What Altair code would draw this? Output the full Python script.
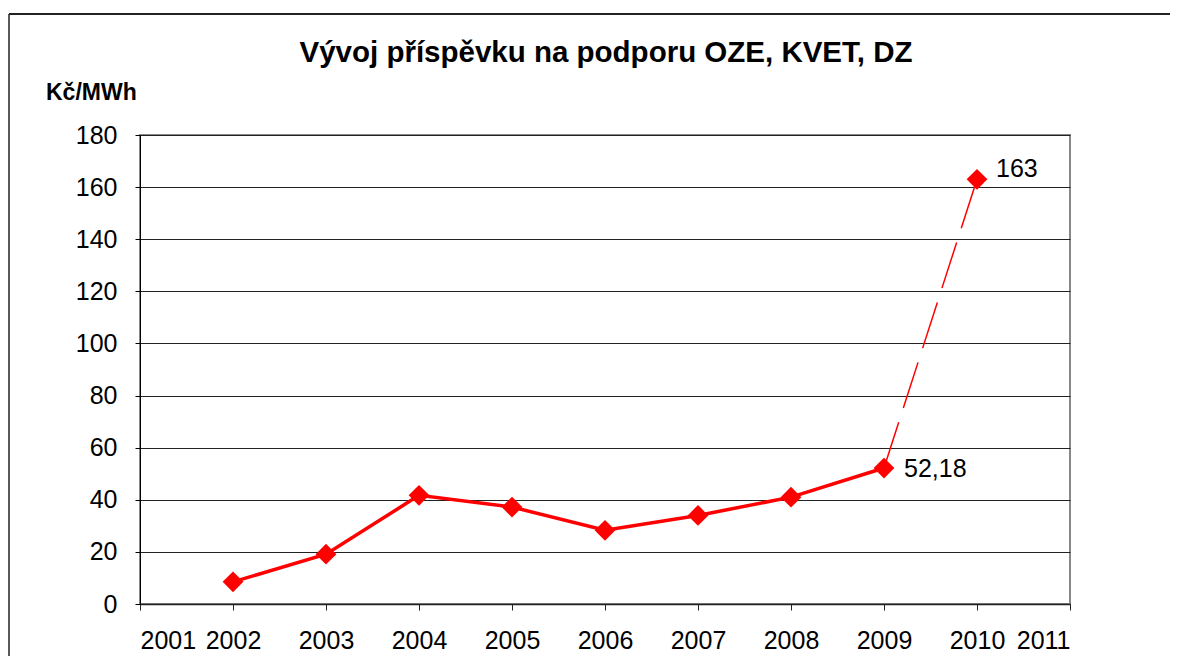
import altair as alt
import pandas as pd

# ---- data ----
years = [2002, 2003, 2004, 2005, 2006, 2007, 2008, 2009, 2010]
values = [8.5, 19.1, 41.7, 37.2, 28.3, 34.0, 41.0, 52.18, 163.0]
value_labels = ["", "", "", "", "", "", "", "52,18", "163"]
x_ticks = list(range(2001, 2012))
y_ticks = list(range(0, 181, 20))
title_text = "Vývoj příspěvku na podporu OZE, KVET, DZ"
unit_text = "Kč/MWh"

FONT = "Liberation Sans"

df = pd.DataFrame({"year": years, "value": values, "label": value_labels})
solid = df.iloc[:8]
dashed = df.iloc[7:]
lab_2009 = df[df.year == 2009]
lab_2010 = df[df.year == 2010]

x = alt.X(
    "year:Q",
    scale=alt.Scale(domain=[2001, 2011], nice=False, zero=False),
    axis=alt.Axis(values=x_ticks, format="d", title=None, grid=False,
                  tickSize=6, labelPadding=18, domainWidth=1.5,
                  domainColor="#222", tickColor="#222"),
)
y = alt.Y(
    "value:Q",
    scale=alt.Scale(domain=[0, 180], nice=False),
    axis=alt.Axis(values=y_ticks, title=None, grid=True, gridColor="#222",
                  gridWidth=1, tickSize=5, labelPadding=18,
                  domainColor="#000", tickColor="#000"),
)

dummy = alt.Data(values=[{}])

frame_top = alt.Chart(dummy).mark_rule(color="#222", strokeWidth=2).encode(
    x=alt.value(-131), x2=alt.value(1100), y=alt.value(-121)
)
frame_left = alt.Chart(dummy).mark_rule(color="#222", strokeWidth=1.5).encode(
    x=alt.value(-131), y=alt.value(-121), y2=alt.value(700)
)

title = alt.Chart(dummy).mark_text(
    text=title_text, font=FONT, fontSize=29.5, fontWeight="bold",
    align="center", baseline="alphabetic", color="black"
).encode(x=alt.value(466), y=alt.value(-73))

unit = alt.Chart(dummy).mark_text(
    text=unit_text, font=FONT, fontSize=23, fontWeight="bold",
    align="left", baseline="alphabetic", color="black"
).encode(x=alt.value(-94), y=alt.value(-35))

line_solid = alt.Chart(solid).mark_line(color="#FF0000", strokeWidth=3.5).encode(x=x, y=y)
line_dashed = alt.Chart(dashed).mark_line(
    color="#FF0000", strokeWidth=1.5, strokeDash=[48, 15]
).encode(x=x, y=y)

points = alt.Chart(df).mark_point(
    shape="diamond", filled=True, size=430, color="#FF0000", opacity=1
).encode(x=x, y=y)

text_2009 = alt.Chart(lab_2009).mark_text(
    align="left", baseline="middle", dx=20, dy=1, font=FONT, fontSize=25, color="black"
).encode(x=x, y=y, text="label:N")
text_2010 = alt.Chart(lab_2010).mark_text(
    align="left", baseline="middle", dx=19, dy=-10, font=FONT, fontSize=25, color="black"
).encode(x=x, y=y, text="label:N")

chart = alt.layer(
    frame_top, frame_left, title, unit,
    line_dashed, line_solid, points, text_2009, text_2010
).properties(
    width=930, height=469,
    autosize=alt.AutoSizeParams(type="none"),
    padding={"left": 132, "top": 127, "right": 100, "bottom": 52},
    background="white",
).configure_view(
    stroke="#888888", strokeWidth=2
).configure_axis(
    labelFont=FONT, labelFontSize=25, labelColor="black"
)

chart.save("out.html", embed_options={"renderer": "svg", "actions": False})
